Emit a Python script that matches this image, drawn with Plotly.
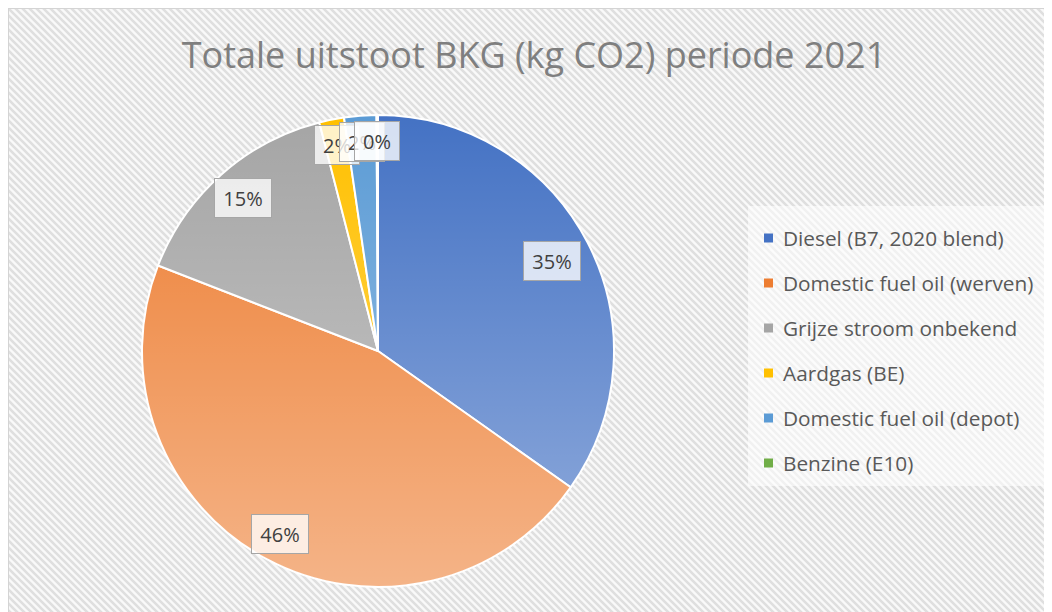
import base64
import math
import plotly.graph_objects as go

# page body has an 8px margin; figure is placed at (8, 8)
OFF = 8
FW, FH = 1044, 604

# ---- data ----
title_text = "Totale uitstoot BKG (kg CO2) periode 2021"
labels = [
    "Diesel (B7, 2020 blend)",
    "Domestic fuel oil (werven)",
    "Grijze stroom onbekend",
    "Aardgas (BE)",
    "Domestic fuel oil (depot)",
    "Benzine (E10)",
]
values = [34.8, 46.1, 15.1, 1.7, 2.2, 0.1]
colors = ["#4472C4", "#ED7D31", "#A5A5A5", "#FFC000", "#5B9BD5", "#70AD47"]

# ---- layout constants (window pixels) ----
CX, CY, R = 378, 351, 236
label_rf = [0.83, 0.88, 0.865, 0.89, 0.89, 0.89]
legend_x_text = 781
legend_y0, legend_dy = 238, 45


def px(x):
    return (x - OFF) / FW


def py(y):
    return 1 - (y - OFF) / FH


def svg_uri(svg):
    return "data:image/svg+xml;base64," + base64.b64encode(svg.encode()).decode()


# hatched chart background
s = 7
bg_svg = f'''<svg xmlns="http://www.w3.org/2000/svg" width="{FW}" height="{FH}" viewBox="0 0 {FW} {FH}">
<defs><pattern id="p" width="{s}" height="{s}" patternUnits="userSpaceOnUse">
<rect width="{s}" height="{s}" fill="#f9f9f9"/>
<path d="M0,0 L{s},{s} M-1,{s-1} L1,{s+1} M{s-1},-1 L{s+1},1" stroke="#dfdfdf" stroke-width="2.6"/>
</pattern></defs>
<rect x="0" y="0" width="{FW+10}" height="{FH+10}" fill="url(#p)" stroke="#d4d4d4" stroke-width="2"/>
</svg>'''

# vertical light gradient over the pie
d = 2 * R
grad_svg = f'''<svg xmlns="http://www.w3.org/2000/svg" width="{d}" height="{d}" viewBox="0 0 {d} {d}">
<defs><linearGradient id="g" x1="0" y1="0" x2="0" y2="1">
<stop offset="0" stop-color="#ffffff" stop-opacity="0"/>
<stop offset="1" stop-color="#ffffff" stop-opacity="0.42"/>
</linearGradient></defs>
<circle cx="{R}" cy="{R}" r="{R-0.5}" fill="url(#g)"/>
</svg>'''

fig = go.Figure()
fig.add_trace(go.Pie(
    labels=labels,
    values=values,
    sort=False,
    direction="clockwise",
    rotation=0,
    marker=dict(colors=colors, line=dict(color="#ffffff", width=2)),
    textinfo="none",
    hoverinfo="label+percent",
    showlegend=False,
    domain=dict(x=[px(CX - R), px(CX + R)], y=[py(CY + R), py(CY - R)]),
))

images = [
    dict(source=svg_uri(bg_svg), xref="paper", yref="paper", x=0, y=1,
         sizex=1, sizey=1, xanchor="left", yanchor="top", sizing="stretch", layer="below"),
    dict(source=svg_uri(grad_svg), xref="paper", yref="paper", x=px(CX - R), y=py(CY - R),
         sizex=2 * R / FW, sizey=2 * R / FH, xanchor="left", yanchor="top",
         sizing="stretch", layer="above"),
]

annotations = []
shapes = []

# data labels
total = sum(values)
cum = 0.0
for v, rf in zip(values, label_rf):
    mid = (cum + v / 2) / total * 2 * math.pi
    cum += v
    lx = CX + rf * R * math.sin(mid)
    ly = CY - rf * R * math.cos(mid)
    txt = f"{round(v / total * 100)}%"
    annotations.append(dict(
        x=px(lx), y=py(ly), xref="paper", yref="paper",
        xanchor="center", yanchor="middle",
        text=txt, showarrow=False, width=12 * len(txt) + 8, height=26,
        font=dict(family="Open Sans", size=20, color="#404040"),
        bgcolor="rgba(255,255,255,0.78)", bordercolor="#a6a6a6",
        borderwidth=1, borderpad=6,
    ))

# legend box
shapes.append(dict(type="rect", xref="paper", yref="paper",
                   x0=px(748), x1=1.01, y0=py(486), y1=py(206),
                   fillcolor="rgba(255,255,255,0.55)", line=dict(width=0), layer="above"))
for i, (lab, col) in enumerate(zip(labels, colors)):
    yc = legend_y0 + i * legend_dy
    shapes.append(dict(type="rect", xref="paper", yref="paper",
                       x0=px(764), x1=px(773), y0=py(yc + 4.5), y1=py(yc - 4.5),
                       fillcolor=col, line=dict(width=0), layer="above"))
    annotations.append(dict(
        x=px(legend_x_text), y=py(yc), xref="paper", yref="paper",
        xanchor="left", yanchor="middle", text=lab, showarrow=False,
        font=dict(family="Open Sans", size=20.8, color="#595959"),
    ))

fig.update_layout(
    width=FW, height=FH,
    margin=dict(l=0, r=0, t=0, b=0),
    paper_bgcolor="#ffffff",
    plot_bgcolor="#ffffff",
    title=dict(text=title_text, x=px(534), y=py(55), xanchor="center", yanchor="middle",
               font=dict(family="Open Sans", size=36, color="#7f7f7f")),
    images=images,
    annotations=annotations,
    shapes=shapes,
    showlegend=False,
)

fig.write_html("out.html")
